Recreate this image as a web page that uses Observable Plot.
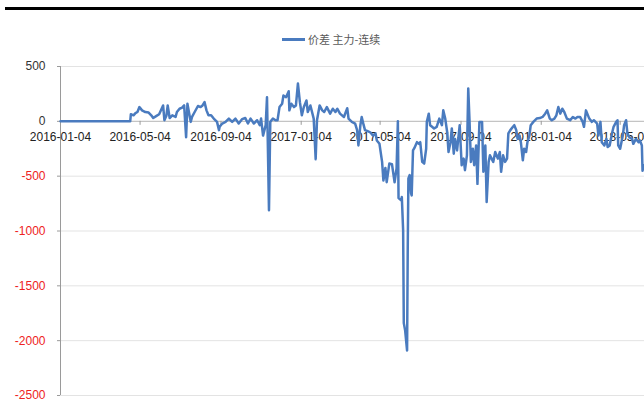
<!DOCTYPE html>
<html>
<head>
<meta charset="utf-8">
<script src="https://cdn.jsdelivr.net/npm/d3@7"></script>
<script src="https://cdn.jsdelivr.net/npm/@observablehq/plot@0.6"></script>
<style>
  html, body { margin: 0; padding: 0; background: #fff; overflow: hidden; }
  #wrap { position: relative; width: 644px; height: 419px; }
  #header { position: relative; width: 644px; height: 56px; }
  #bar { position: absolute; left: 5px; right: 0; top: 6.5px; height: 3px; background: #000; }
  #legend { position: absolute; left: 282px; top: 31px; display: flex; align-items: center;
            font-family: "Noto Sans CJK SC", sans-serif; font-size: 11px; color: #595959; }
  #legend .sw { width: 23px; height: 3px; background: #4a7bbf; margin-right: 3px; }
  svg { display: block; }
</style>
</head>
<body>
<div id="wrap">
  <div id="header">
    <div id="bar"></div>
    <div id="legend"><span class="sw"></span><span id="legendText"></span></div>
  </div>
  <div id="chart"></div>
</div>
<script>
const seriesName = "价差 主力-连续";

const dates = [
"2016-01-04","2016-04-19","2016-04-20","2016-04-24","2016-04-27","2016-04-30","2016-05-03","2016-05-07","2016-05-12","2016-05-17",
"2016-05-21","2016-05-24","2016-05-29","2016-06-02","2016-06-08","2016-06-10","2016-06-13","2016-06-15","2016-06-18","2016-06-22",
"2016-06-27","2016-06-29","2016-07-03","2016-07-07","2016-07-10","2016-07-13","2016-07-15","2016-07-20","2016-07-22","2016-07-26",
"2016-07-31","2016-08-04","2016-08-07","2016-08-10","2016-08-13","2016-08-16","2016-08-20","2016-08-24","2016-08-29","2016-09-01",
"2016-09-02","2016-09-06","2016-09-11","2016-09-16","2016-09-21","2016-09-26","2016-10-01","2016-10-06","2016-10-11","2016-10-15",
"2016-10-19","2016-10-24","2016-10-29","2016-11-02","2016-11-04","2016-11-07","2016-11-11","2016-11-13","2016-11-16","2016-11-18",
"2016-11-22","2016-11-26","2016-11-29","2016-12-02","2016-12-06","2016-12-08","2016-12-12","2016-12-16","2016-12-17","2016-12-20",
"2016-12-24","2016-12-27","2016-12-30","2017-01-02","2017-01-05","2017-01-08","2017-01-12","2017-01-14","2017-01-18","2017-01-23",
"2017-01-26","2017-01-28","2017-02-01","2017-02-05","2017-02-08","2017-02-12","2017-02-17","2017-02-21","2017-02-25","2017-02-28",
"2017-03-04","2017-03-10","2017-03-15","2017-03-17","2017-03-22","2017-03-27","2017-03-30","2017-04-01","2017-04-04","2017-04-06",
"2017-04-09","2017-04-11","2017-04-15","2017-04-19","2017-04-23","2017-04-27","2017-04-29","2017-05-03","2017-05-07","2017-05-09",
"2017-05-12","2017-05-14","2017-05-18","2017-05-22","2017-05-26","2017-05-29","2017-05-31","2017-06-01","2017-06-05","2017-06-06",
"2017-06-08","2017-06-09","2017-06-11","2017-06-14","2017-06-15","2017-06-16","2017-06-18","2017-06-20","2017-06-21","2017-06-23",
"2017-06-25","2017-06-29","2017-07-02","2017-07-04","2017-07-07","2017-07-10","2017-07-13","2017-07-14","2017-07-17","2017-07-19",
"2017-07-22","2017-07-25","2017-07-29","2017-08-02","2017-08-06","2017-08-08","2017-08-11","2017-08-14","2017-08-16","2017-08-19",
"2017-08-21","2017-08-24","2017-08-26","2017-08-29","2017-09-02","2017-09-05","2017-09-08","2017-09-10","2017-09-13","2017-09-15",
"2017-09-17","2017-09-19","2017-09-22","2017-09-24","2017-09-27","2017-09-29","2017-10-02","2017-10-06","2017-10-08","2017-10-11",
"2017-10-13","2017-10-16","2017-10-18","2017-10-23","2017-10-26","2017-10-30","2017-11-02","2017-11-04","2017-11-07","2017-11-10",
"2017-11-13","2017-11-15","2017-11-18","2017-11-22","2017-11-24","2017-11-27","2017-11-29","2017-12-02","2017-12-04","2017-12-07",
"2017-12-09","2017-12-12","2017-12-14","2017-12-17","2017-12-19","2017-12-23","2017-12-28","2018-01-02","2018-01-06","2018-01-10",
"2018-01-13","2018-01-17","2018-01-20","2018-01-24","2018-01-27","2018-01-30","2018-02-02","2018-02-05","2018-02-08","2018-02-12",
"2018-02-17","2018-02-21","2018-02-25","2018-02-28","2018-03-04","2018-03-08","2018-03-10","2018-03-13","2018-03-15","2018-03-18",
"2018-03-22","2018-03-25","2018-03-30","2018-04-01","2018-04-04","2018-04-06","2018-04-10","2018-04-13","2018-04-15","2018-04-18",
"2018-04-22","2018-04-24","2018-04-28","2018-04-30","2018-05-01","2018-05-04","2018-05-08","2018-05-10","2018-05-13","2018-05-15",
"2018-05-18","2018-05-22","2018-05-24","2018-05-28","2018-06-01","2018-06-03","2018-06-06","2018-06-07","2018-06-09"
];

const values = [
0,0,65,55,75,85,130,100,85,80,
55,30,50,65,145,10,50,145,30,55,
40,85,115,125,145,-145,160,-5,40,85,
140,130,145,175,100,55,55,25,-5,-80,
-50,-20,-5,25,-5,25,-20,20,30,-20,
25,-20,10,-35,25,-130,-35,220,-810,-5,
25,10,10,130,160,235,220,275,100,160,
130,145,345,175,55,130,190,85,145,25,
-345,10,145,100,85,130,70,115,85,115,
70,40,120,25,-5,-20,-80,-220,-35,40,
-35,-80,-90,-100,-130,-110,-175,-205,-370,-540,
-425,-555,-385,-390,-555,-430,0,-700,-720,-690,
-995,-1840,-1905,-2090,-1150,-520,-490,-655,-675,-265,
-245,-190,-205,-190,-370,-385,-250,-5,70,-35,
-50,-65,-50,25,-35,100,25,-100,-280,-190,
-65,-295,-160,-265,-35,-400,-340,-445,-310,300,
-5,-370,-250,-400,-220,-570,-5,-5,-460,-220,
-735,-370,-310,-370,-280,-340,-280,-460,-310,-370,
-340,-110,-80,-50,-35,-80,-160,-130,-190,-355,
-250,-280,-190,-130,-35,-5,25,30,40,70,
100,25,10,25,55,130,70,115,85,25,
10,40,25,40,40,-5,-50,100,70,25,
-5,10,-20,-130,-5,-190,-220,-160,-235,-220,
-100,-50,-5,10,-220,-250,-130,-35,10,-110,
-145,-160,-205,-160,-190,-175,-220,-450,-400
];

const xTickLabels = ["2016-01-04","2016-05-04","2016-09-04","2017-01-04","2017-05-04","2017-09-04","2018-01-04","2018-05-04"];
const yTicksPos = [500, 0];
const yTicksNeg = [-500, -1000, -1500, -2000, -2500];
const xDomain = ["2016-01-04", "2018-06-10"];

const parse = d3.utcParse("%Y-%m-%d");
const data = dates.map((d, i) => ({date: parse(d), value: values[i]}));
const xTicks = xTickLabels.map(parse);
const yTicks = yTicksPos.concat(yTicksNeg);

document.getElementById("legendText").textContent = seriesName;

const lineColor = "#4a7bbf";
const font = "Liberation Sans, Arial, sans-serif";

const chart = Plot.plot({
  width: 644,
  height: 363,
  marginLeft: 60,
  marginRight: 0,
  marginTop: 10,
  marginBottom: 24,
  style: {fontFamily: font, fontSize: "12px", background: "#fff", overflow: "visible"},
  x: {type: "utc", domain: xDomain.map(parse), axis: null},
  y: {domain: [-2500, 500], axis: null},
  marks: [
    Plot.ruleY(yTicks.filter(v => v !== 0), {stroke: "#e3e3e3", strokeWidth: 1}),
    Plot.ruleY([0], {stroke: "#c4c4c4", strokeWidth: 1.2}),
    Plot.ruleX([parse(xDomain[0])], {stroke: "#9a9a9a", strokeWidth: 1}),
    Plot.axisY(yTicksPos, {label: null, tickSize: 3, tickPadding: 12, stroke: "#9a9a9a", fill: "#333", fontSize: 12, tickFormat: d => String(d)}),
    Plot.axisY(yTicksNeg, {label: null, tickSize: 3, tickPadding: 12, stroke: "#9a9a9a", fill: "#ee2222", fontSize: 12, tickFormat: d => String(d)}),
    Plot.ruleX(xTicks, {x: d => d, y1: () => 0, y2: () => 0, insetBottom: -4, stroke: "#9a9a9a"}),
    Plot.text(xTicks, {x: d => d, y: () => 0, dy: 16, text: d => d3.utcFormat("%Y-%m-%d")(d), fill: "#222", fontSize: 12, textAnchor: "middle"}),
    Plot.line(data, {x: "date", y: "value", stroke: lineColor, strokeWidth: 2.5, strokeLinejoin: "round", curve: "linear"})
  ]
});
document.getElementById("chart").appendChild(chart);
</script>
</body>
</html>
